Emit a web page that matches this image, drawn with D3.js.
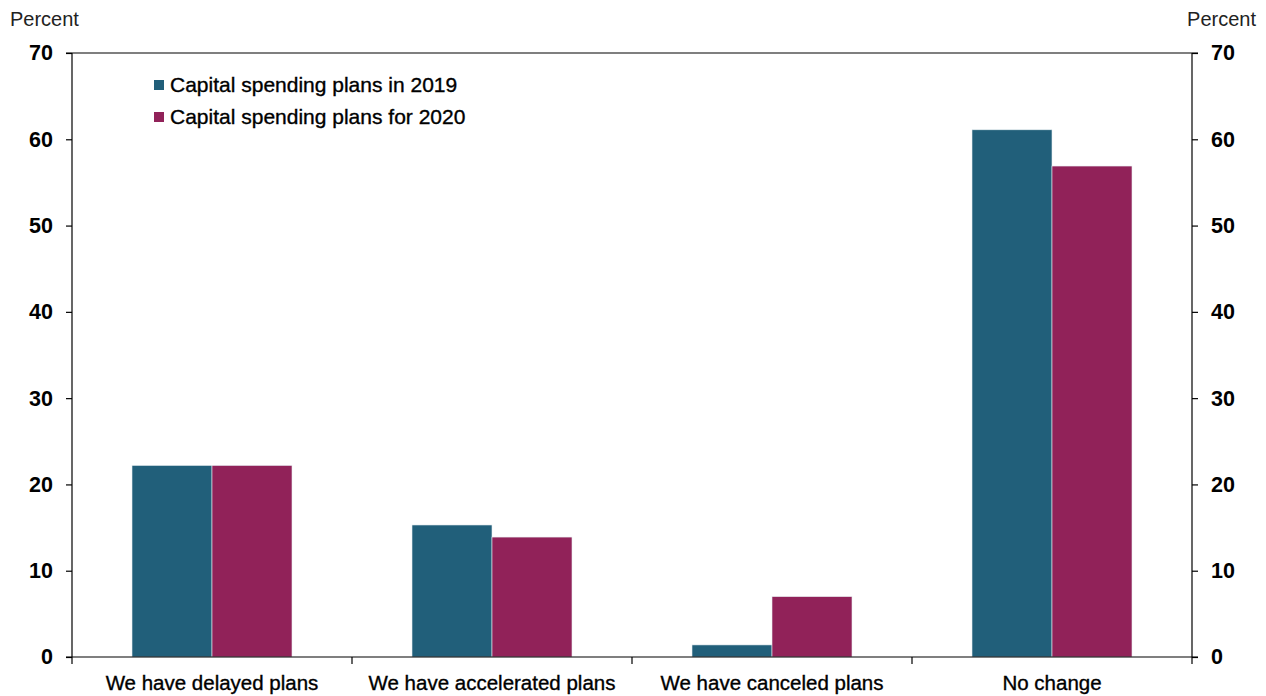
<!DOCTYPE html>
<html><head><meta charset="utf-8">
<script src="https://cdn.jsdelivr.net/npm/d3@7"></script>
<style>body{margin:0;background:#fff}svg{display:block}</style>
</head><body><svg id="c" width="1266" height="696"></svg>
<script>
const categories = ["We have delayed plans","We have accelerated plans","We have canceled plans","No change"];
const seriesNames = ["Capital spending plans in 2019","Capital spending plans for 2020"];
const values2019 = [22.2, 15.3, 1.4, 61.1];
const values2020 = [22.2, 13.9, 7.0, 56.9];
const yTicks = [0,10,20,30,40,50,60,70];
const colors = ["#215f7a","#912259"];

const svg = d3.select("#c");
const L = 72, R = 1192, T = 53, B = 657;
const x0 = d3.scaleBand().domain(categories).range([L,R]).padding(0);
const x1 = d3.scaleBand().domain([0,1]).range([0,x0.bandwidth()]).paddingInner(0).paddingOuter(0.75);
const y = d3.scaleLinear().domain([0,70]).range([B,T]);
const font = "'Liberation Sans', Arial, sans-serif";

// bars
const data = categories.map((c,i)=>({c, v:[values2019[i], values2020[i]]}));
const g = svg.append("g");
data.forEach(d=>{
  d.v.forEach((v,j)=>{
    g.append("rect").attr("x", x0(d.c)+x1(j)).attr("y", y(v))
      .attr("width", x1.bandwidth()).attr("height", B-y(v))
      .attr("fill", colors[j]).attr("stroke","#e8eef2").attr("stroke-width",0.6);
  });
});

// axes
const axL = d3.axisLeft(y).tickValues(yTicks).tickSize(6).tickPadding(13);
const axR = d3.axisRight(y).tickValues(yTicks).tickSize(6).tickPadding(13);
const styleAx = sel => {
  sel.selectAll("path").attr("stroke","#000").attr("stroke-width",1.2);
  sel.selectAll("line").attr("stroke","#000").attr("stroke-width",1.2);
  sel.selectAll("text").attr("font-family",font).attr("font-weight","bold").attr("font-size",21.5).attr("fill","#000");
};
svg.append("g").attr("transform",`translate(${L},0)`).call(axL).call(styleAx).select(".domain").attr("d",`M0,${T}V${B}`);
svg.append("g").attr("transform",`translate(${R},0)`).call(axR).call(styleAx).select(".domain").attr("d",`M0,${T}V${B}`);
// top line
svg.append("line").attr("x1",L-6).attr("x2",R+6).attr("y1",T).attr("y2",T).attr("stroke","#000").attr("stroke-width",1.2);
// bottom axis
const xb = d3.axisBottom(x0).tickSize(0).tickPadding(18);
const bx = svg.append("g").attr("transform",`translate(0,${B})`).call(xb);
bx.select(".domain").attr("d",`M${L-6},0H${R+6}`).attr("stroke","#000").attr("stroke-width",1.2);
bx.selectAll("text").attr("font-family",font).attr("font-size",20.5).attr("fill","#000")
  .attr("stroke","#000").attr("stroke-width",0.35);
const bounds = categories.map(c=>x0(c)).concat([R]);
svg.append("g").selectAll("line").data(bounds).join("line")
  .attr("x1",d=>d).attr("x2",d=>d).attr("y1",B).attr("y2",B+7).attr("stroke","#000").attr("stroke-width",1.2);

// percent labels
svg.append("text").attr("x",10).attr("y",26).text("Percent").attr("font-family",font).attr("font-size",20).attr("fill","#222");
svg.append("text").attr("x",1256).attr("y",26).attr("text-anchor","end").text("Percent").attr("font-family",font).attr("font-size",20).attr("fill","#222");

// legend
seriesNames.forEach((s,i)=>{
  const ly = 85 + i*32;
  svg.append("rect").attr("x",154).attr("y",ly-5).attr("width",10).attr("height",10).attr("fill",colors[i]);
  svg.append("text").attr("x",170).attr("y",ly+7).text(s).attr("font-family",font).attr("font-size",21)
    .attr("fill","#000").attr("stroke","#000").attr("stroke-width",0.35);
});
</script></body></html>
